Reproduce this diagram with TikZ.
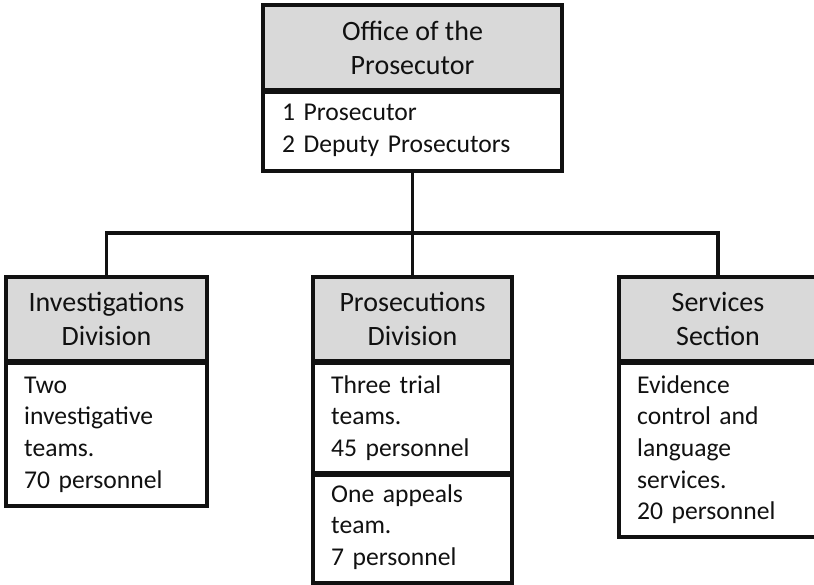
\documentclass[tikz,border=0pt]{standalone}
\usepackage{fontspec}
\setmainfont{Carlito}
\definecolor{hdrgrey}{HTML}{D9D9D9}
\definecolor{ink}{HTML}{111111}
\newcommand{\hdrfont}{\fontsize{28pt}{34pt}\selectfont}
\newcommand{\bodyfont}{\fontsize{25.6pt}{31.7pt}\selectfont}
\tikzset{
  box/.style={draw=ink, line width=3.4pt, rectangle, inner sep=0pt},
  hdrbox/.style={box, fill=hdrgrey, font=\hdrfont, align=center, text=ink},
  bodybox/.style={box, fill=white},
  bodytext/.style={font=\bodyfont, align=left, anchor=base west, inner sep=0pt, text=ink, text width=#1},
  divider/.style={draw=ink, line width=5.5pt},
  link/.style={draw=ink, line width=3.4pt}
}
\begin{document}
\begin{tikzpicture}[x=1pt,y=-1pt]
\clip (0,0) rectangle (814,585);
\fill[white] (0,0) rectangle (814,585);
% top box
\node[hdrbox, minimum width=299pt, minimum height=85pt] (tophdr) at (412.5,47.5) {Office of the\\Prosecutor};
\node[bodybox, minimum width=299pt, minimum height=81pt] (topbody) at (412.5,130.5) {};
\node[bodytext=280pt] (toptext) at (282,121) {1 Prosecutor\\2 Deputy Prosecutors};
\draw[divider] (tophdr.south west) -- (tophdr.south east);
% left box
\node[hdrbox, minimum width=201pt, minimum height=84pt] (lefthdr) at (106.5,319) {Investigations\\Division};
\node[bodybox, minimum width=201pt, minimum height=145pt] (leftbody) at (106.5,433.5) {};
\node[bodytext=180pt] (lefttext) at (24,393) {Two\\investigative\\teams.\\70 personnel};
\draw[divider] (lefthdr.south west) -- (lefthdr.south east);
% middle box
\node[hdrbox, minimum width=199pt, minimum height=84pt] (midhdr) at (412.5,319) {Prosecutions\\Division};
\node[bodybox, minimum width=199pt, minimum height=112pt] (midbodyA) at (412.5,417) {};
\node[bodybox, minimum width=199pt, minimum height=110pt] (midbodyB) at (412.5,528) {};
\node[bodytext=180pt] (midtextA) at (331,393) {Three trial\\teams.\\45 personnel};
\node[bodytext=180pt] (midtextB) at (331,502) {One appeals\\team.\\7 personnel};
\draw[divider] (midhdr.south west) -- (midhdr.south east);
\draw[divider] (midbodyA.south west) -- (midbodyA.south east);
% right box
\node[hdrbox, minimum width=198pt, minimum height=84pt] (righthdr) at (718,319) {Services\\Section};
\node[bodybox, minimum width=198pt, minimum height=176pt] (rightbody) at (718,449) {};
\node[bodytext=180pt] (righttext) at (637,393) {Evidence\\control and\\language\\services.\\20 personnel};
\draw[divider] (righthdr.south west) -- (righthdr.south east);
% connectors
\coordinate (junction) at (412.5,233);
\draw[link] (topbody.south) -- (junction);
\draw[link] (junction) -| (lefthdr.north);
\draw[link] (junction) -| (righthdr.north);
\draw[link] (junction) -- (midhdr.north);
\end{tikzpicture}
\end{document}
